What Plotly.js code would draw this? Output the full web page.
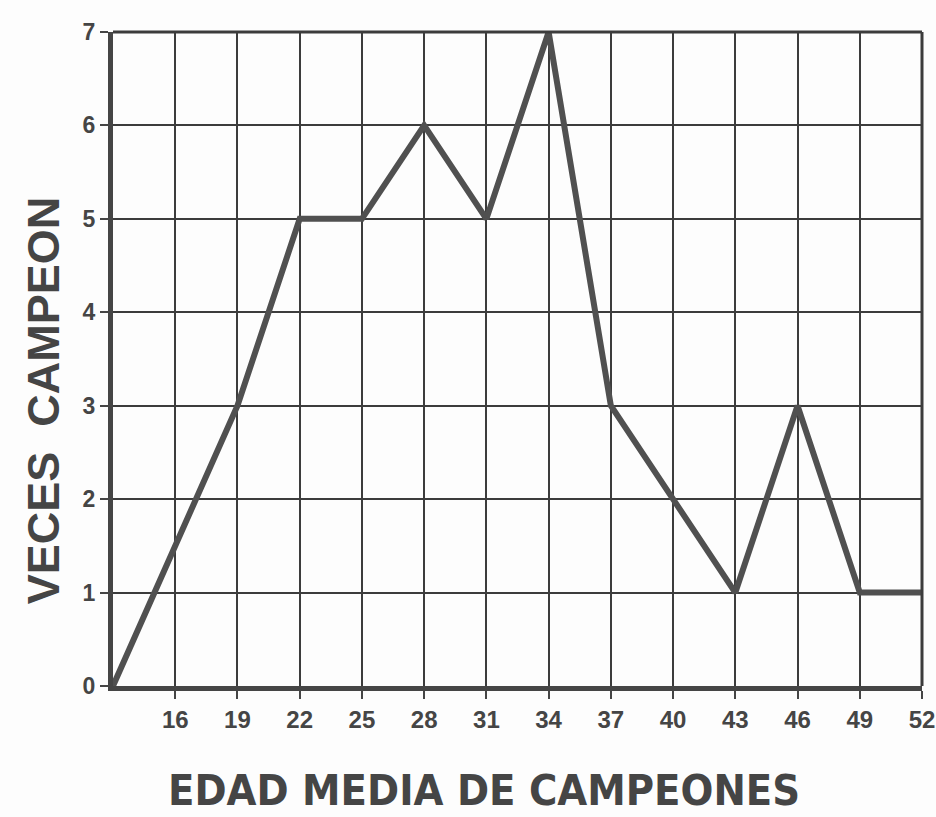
<!DOCTYPE html>
<html>
<head>
<meta charset="utf-8">
<script src="https://cdn.plot.ly/plotly-3.0.1.min.js"></script>
<style>html,body{margin:0;padding:0;background:#fdfdfd;}</style>
</head>
<body>
<div id="chart" style="width:936px;height:817px;"></div>
<script>
const edades = [13, 16, 19, 22, 25, 28, 31, 34, 37, 40, 43, 46, 49, 52];
const vecesCampeon = [0, 1.5, 3, 5, 5, 6, 5, 7, 3, 2, 1, 3, 1, 1];
const xTicks = [16, 19, 22, 25, 28, 31, 34, 37, 40, 43, 46, 49, 52];
const yTicks = [0, 1, 2, 3, 4, 5, 6, 7];
const xTitle = 'EDAD MEDIA DE CAMPEONES';
const yTitle = 'VECES  CAMPEON';

const ink = '#454545';

const trace = {
  x: edades,
  y: vecesCampeon,
  type: 'scatter',
  mode: 'lines',
  line: {color: '#505050', width: 6},
  hoverinfo: 'skip'
};

const layout = {
  width: 936,
  height: 817,
  paper_bgcolor: '#fdfdfd',
  plot_bgcolor: '#fdfdfd',
  margin: {l: 113, r: 14, t: 32, b: 131},
  showlegend: false,
  font: {family: 'Liberation Sans, Arial, sans-serif', color: ink},
  xaxis: {
    range: [13, 52],
    tickvals: xTicks,
    ticktext: xTicks.map(String),
    showgrid: true,
    gridcolor: '#3c3c3c',
    gridwidth: 2,
    showline: true,
    linecolor: ink,
    linewidth: 5,
    zeroline: false,
    ticks: 'outside',
    ticklen: 8,
    tickwidth: 2,
    tickcolor: ink,
    tickfont: {family: 'Liberation Sans, Arial, sans-serif', size: 24, color: ink, weight: 'bold'}
  },
  yaxis: {
    range: [0, 7],
    tickvals: yTicks,
    ticktext: yTicks.map(String),
    showgrid: true,
    gridcolor: '#3c3c3c',
    gridwidth: 2,
    showline: true,
    linecolor: ink,
    linewidth: 5,
    zeroline: false,
    ticks: 'outside',
    ticklen: 8,
    tickwidth: 2,
    tickcolor: ink,
    tickfont: {family: 'Liberation Sans, Arial, sans-serif', size: 23, color: ink, weight: 'bold'}
  },
  annotations: [
    {
      text: xTitle, xref: 'paper', yref: 'paper', x: 0.4586, y: -0.159,
      xanchor: 'center', yanchor: 'middle', showarrow: false,
      font: {family: 'DejaVu Sans Condensed, DejaVu Sans, sans-serif', size: 43, color: ink, weight: 'bold'}
    },
    {
      text: yTitle, xref: 'paper', yref: 'paper', x: -0.0865, y: 0.437,
      xanchor: 'center', yanchor: 'middle', showarrow: false, textangle: -90,
      font: {family: 'Liberation Sans, Arial, sans-serif', size: 45, color: ink, weight: 'bold'}
    }
  ],
  shapes: [
    {type: 'line', xref: 'paper', yref: 'paper', x0: 1, x1: 1, y0: 0, y1: 1, line: {color: '#3c3c3c', width: 3}},
    {type: 'line', xref: 'paper', yref: 'paper', x0: 0, x1: 1, y0: 1, y1: 1, line: {color: '#3c3c3c', width: 3}}
  ]
};

Plotly.newPlot('chart', [trace], layout, {displayModeBar: false, staticPlot: true});
</script>
</body>
</html>
